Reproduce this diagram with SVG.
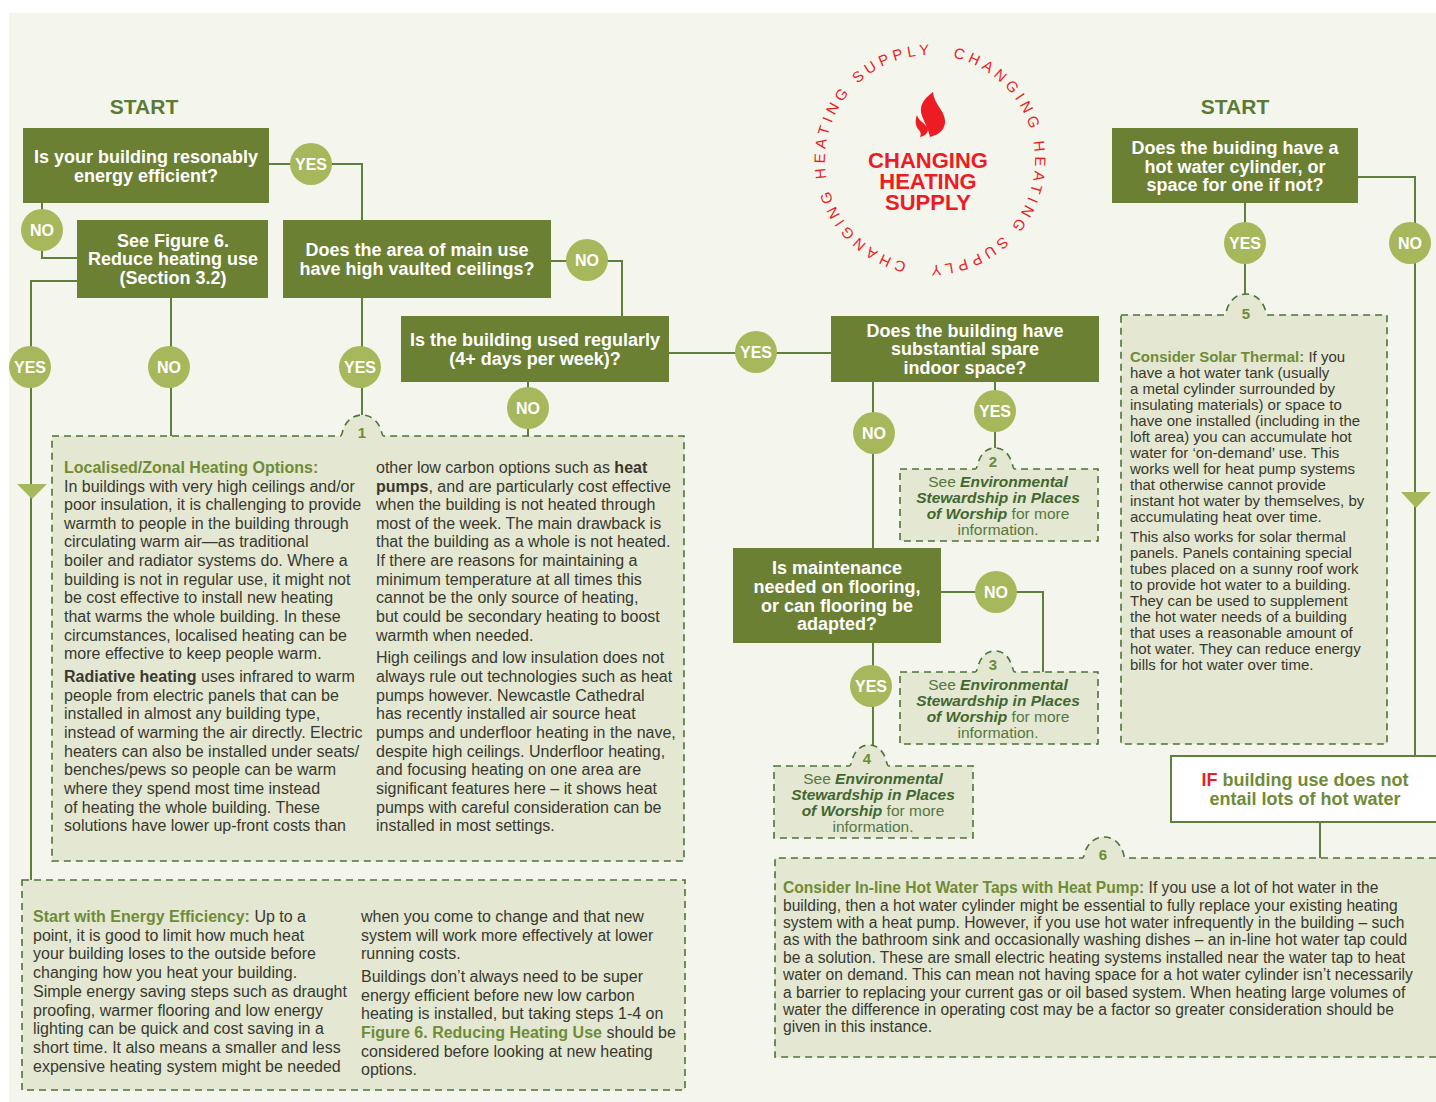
<svg xmlns="http://www.w3.org/2000/svg" width="1436" height="1102" viewBox="0 0 1436 1102">
<style>
text{font-family:"Liberation Sans",Arial,sans-serif}
.bg{fill:#f4f6ed}
.box{fill:#6b8033}
.bt{fill:#fff;font-weight:700;font-size:18px;text-anchor:middle}
.c{fill:#a7b85c}
.ct{fill:#fff;font-weight:700;font-size:16px;text-anchor:middle}
.ln{fill:none;stroke:#5f7f3c;stroke-width:2}
.p{fill:#e4e8d2;stroke:#4f7238;stroke-width:1.6;stroke-dasharray:7 5}
.b{fill:#38382f;font-size:16px}
.b5{fill:#38382f;font-size:15px}
.b6{fill:#38382f;font-size:15.6px}
.h{fill:#6f8b37;font-weight:700}
.d{font-weight:700;color:#000;fill:#38382f}
.n{fill:#6f8b37;font-weight:700;font-size:15px;text-anchor:middle}
.s{fill:#54773f;font-size:15.5px;text-anchor:middle}
.s tspan.e{font-weight:700;font-style:italic;fill:#41672f}
.st{fill:#5c7a34;font-weight:700;font-size:21px;text-anchor:middle}
.r{fill:#ed1c24}
</style>
<rect width="1436" height="1102" fill="#fff"/>
<rect class="bg" x="9" y="13" width="1427" height="1089"/>

<g id="connectors">
<path class="ln" d="M269 164H362V220M362 298V415"/>
<path class="ln" d="M42 203V258H77"/>
<path class="ln" d="M77 281H31V880"/>
<path class="ln" d="M171 298V456"/>
<path class="ln" d="M551 261H622V316"/>
<path class="ln" d="M528 382V436"/>
<path class="ln" d="M669 353H831"/>
<path class="ln" d="M873 382V548"/>
<path class="ln" d="M995 382V448"/>
<path class="ln" d="M941 592H1043V672"/>
<path class="ln" d="M873 643V745"/>
<path class="ln" d="M1245 203V294"/>
<path class="ln" d="M1358 177H1415V756"/>
<path class="ln" d="M1320 822V858"/>
<path class="c" d="M17 484H47L32 499Z"/>
<path class="c" d="M1401 492H1431L1416 508Z"/>
</g>

<g id="start-left"><text class="st" x="144" y="114">START</text></g>
<g id="start-right"><text class="st" x="1235" y="114">START</text></g>

<g id="q-efficient"><rect class="box" x="23" y="128" width="246" height="75"/><text class="bt" x="146" y="163">Is your building resonably</text><text class="bt" x="146" y="182">energy efficient?</text></g>
<g id="q-figure6"><rect class="box" x="77" y="220" width="191" height="78"/><text class="bt" x="173" y="247">See Figure 6.</text><text class="bt" x="173" y="265">Reduce heating use</text><text class="bt" x="173" y="284">(Section 3.2)</text></g>
<g id="q-ceilings"><rect class="box" x="283" y="220" width="268" height="78"/><text class="bt" x="417" y="256">Does the area of main use</text><text class="bt" x="417" y="275">have high vaulted ceilings?</text></g>
<g id="q-regular"><rect class="box" x="401" y="316" width="268" height="66"/><text class="bt" x="535" y="346">Is the building used regularly</text><text class="bt" x="535" y="365">(4+ days per week)?</text></g>
<g id="q-spare"><rect class="box" x="831" y="316" width="268" height="66"/><text class="bt" x="965" y="337">Does the building have</text><text class="bt" x="965" y="355">substantial spare</text><text class="bt" x="965" y="374">indoor space?</text></g>
<g id="q-flooring"><rect class="box" x="733" y="548" width="208" height="95"/><text class="bt" x="837" y="574">Is maintenance</text><text class="bt" x="837" y="593">needed on flooring,</text><text class="bt" x="837" y="612">or can flooring be</text><text class="bt" x="837" y="630">adapted?</text></g>
<g id="q-cylinder"><rect class="box" x="1112" y="128" width="246" height="75"/><text class="bt" x="1235" y="154">Does the buiding have a</text><text class="bt" x="1235" y="173">hot water cylinder, or</text><text class="bt" x="1235" y="191">space for one if not?</text></g>

<g id="c1"><circle class="c" cx="311" cy="164" r="21"/><text class="ct" x="311" y="170">YES</text></g>
<g id="c2"><circle class="c" cx="42" cy="230" r="21"/><text class="ct" x="42" y="236">NO</text></g>
<g id="c3"><circle class="c" cx="587" cy="260" r="21"/><text class="ct" x="587" y="266">NO</text></g>
<g id="c4"><circle class="c" cx="30" cy="367" r="21"/><text class="ct" x="30" y="373">YES</text></g>
<g id="c5"><circle class="c" cx="169" cy="367" r="21"/><text class="ct" x="169" y="373">NO</text></g>
<g id="c6"><circle class="c" cx="360" cy="367" r="21"/><text class="ct" x="360" y="373">YES</text></g>
<g id="c7"><circle class="c" cx="528" cy="408" r="21"/><text class="ct" x="528" y="414">NO</text></g>
<g id="c8"><circle class="c" cx="756" cy="352" r="21"/><text class="ct" x="756" y="358">YES</text></g>
<g id="c9"><circle class="c" cx="874" cy="433" r="21"/><text class="ct" x="874" y="439">NO</text></g>
<g id="c10"><circle class="c" cx="995" cy="411" r="21"/><text class="ct" x="995" y="417">YES</text></g>
<g id="c11"><circle class="c" cx="996" cy="592" r="21"/><text class="ct" x="996" y="598">NO</text></g>
<g id="c12"><circle class="c" cx="871" cy="686" r="21"/><text class="ct" x="871" y="692">YES</text></g>
<g id="c13"><circle class="c" cx="1245" cy="243" r="21"/><text class="ct" x="1245" y="249">YES</text></g>
<g id="c14"><circle class="c" cx="1410" cy="243" r="21"/><text class="ct" x="1410" y="249">NO</text></g>

<g id="panel-1">
<path class="p" d="M52 436H340C342 436 342 433 343 430C346 421 353 415 362 415C371 415 378 421 381 430C382 433 382 436 384 436H684V861H52Z"/>
<text class="n" x="362" y="438">1</text>
<text class="b">
<tspan class="h" x="64" y="473">Localised/Zonal Heating Options:</tspan>
<tspan x="64" y="491.5">In buildings with very high ceilings and/or</tspan>
<tspan x="64" y="510">poor insulation, it is challenging to provide</tspan>
<tspan x="64" y="529">warmth to people in the building through</tspan>
<tspan x="64" y="547">circulating warm air—as traditional</tspan>
<tspan x="64" y="566">boiler and radiator systems do. Where a</tspan>
<tspan x="64" y="585">building is not in regular use, it might not</tspan>
<tspan x="64" y="603">be cost effective to install new heating</tspan>
<tspan x="64" y="622">that warms the whole building. In these</tspan>
<tspan x="64" y="641">circumstances, localised heating can be</tspan>
<tspan x="64" y="659">more effective to keep people warm.</tspan>
<tspan x="64" y="682" class="d">Radiative heating</tspan><tspan> uses infrared to warm</tspan>
<tspan x="64" y="701">people from electric panels that can be</tspan>
<tspan x="64" y="719">installed in almost any building type,</tspan>
<tspan x="64" y="738">instead of warming the air directly. Electric</tspan>
<tspan x="64" y="757">heaters can also be installed under seats/</tspan>
<tspan x="64" y="775">benches/pews so people can be warm</tspan>
<tspan x="64" y="794">where they spend most time instead</tspan>
<tspan x="64" y="813">of heating the whole building. These</tspan>
<tspan x="64" y="831">solutions have lower up-front costs than</tspan>
<tspan x="376" y="473">other low carbon options such as </tspan><tspan class="d">heat</tspan>
<tspan x="376" y="491.5" class="d">pumps</tspan><tspan>, and are particularly cost effective</tspan>
<tspan x="376" y="510">when the building is not heated through</tspan>
<tspan x="376" y="529">most of the week. The main drawback is</tspan>
<tspan x="376" y="547">that the building as a whole is not heated.</tspan>
<tspan x="376" y="566">If there are reasons for maintaining a</tspan>
<tspan x="376" y="585">minimum temperature at all times this</tspan>
<tspan x="376" y="603">cannot be the only source of heating,</tspan>
<tspan x="376" y="622">but could be secondary heating to boost</tspan>
<tspan x="376" y="641">warmth when needed.</tspan>
<tspan x="376" y="663">High ceilings and low insulation does not</tspan>
<tspan x="376" y="682">always rule out technologies such as heat</tspan>
<tspan x="376" y="701">pumps however. Newcastle Cathedral</tspan>
<tspan x="376" y="719">has recently installed air source heat</tspan>
<tspan x="376" y="738">pumps and underfloor heating in the nave,</tspan>
<tspan x="376" y="757">despite high ceilings. Underfloor heating,</tspan>
<tspan x="376" y="775">and focusing heating on one area are</tspan>
<tspan x="376" y="794">significant features here – it shows heat</tspan>
<tspan x="376" y="813">pumps with careful consideration can be</tspan>
<tspan x="376" y="831">installed in most settings.</tspan>
</text>
</g>

<g id="panel-2">
<path class="p" d="M900 469H975C977 469 977 466 978 463C981 454 986 448 995 448C1004 448 1009 454 1012 463C1013 466 1013 469 1015 469H1098V541H900Z"/>
<text class="n" x="993" y="467">2</text>
<text class="s"><tspan x="998" y="487">See <tspan class="e">Environmental</tspan></tspan><tspan class="e" x="998" y="503">Stewardship in Places</tspan><tspan x="998" y="519"><tspan class="e">of Worship</tspan> for more</tspan><tspan x="998" y="535">information.</tspan></text>
</g>
<g id="panel-3">
<path class="p" d="M900 672H975C977 672 977 669 978 666C981 657 986 651 995 651C1004 651 1009 657 1012 666C1013 669 1013 672 1015 672H1098V744H900Z"/>
<text class="n" x="993" y="670">3</text>
<text class="s"><tspan x="998" y="690">See <tspan class="e">Environmental</tspan></tspan><tspan class="e" x="998" y="706">Stewardship in Places</tspan><tspan x="998" y="722"><tspan class="e">of Worship</tspan> for more</tspan><tspan x="998" y="738">information.</tspan></text>
</g>
<g id="panel-4">
<path class="p" d="M774 766H849C851 766 851 763 852 760C855 751 860 745 869 745C878 745 883 751 886 760C887 763 887 766 889 766H973V838H774Z"/>
<text class="n" x="867" y="764">4</text>
<text class="s"><tspan x="873" y="784">See <tspan class="e">Environmental</tspan></tspan><tspan class="e" x="873" y="800">Stewardship in Places</tspan><tspan x="873" y="816"><tspan class="e">of Worship</tspan> for more</tspan><tspan x="873" y="832">information.</tspan></text>
</g>

<g id="panel-5">
<path class="p" d="M1121 315H1224C1226 315 1226 312 1227 309C1230 300 1237 294 1246 294C1255 294 1262 300 1265 309C1266 312 1266 315 1268 315H1387V744H1121Z"/>
<text class="n" x="1246" y="319">5</text>
<text class="b5">
<tspan class="h" x="1130" y="362">Consider Solar Thermal:</tspan><tspan>  If you</tspan>
<tspan x="1130" y="378">have a hot water tank (usually</tspan>
<tspan x="1130" y="394">a metal cylinder surrounded by</tspan>
<tspan x="1130" y="410">insulating materials) or space to</tspan>
<tspan x="1130" y="426">have one installed (including in the</tspan>
<tspan x="1130" y="442">loft area) you can accumulate hot</tspan>
<tspan x="1130" y="458">water for ‘on-demand’ use. This</tspan>
<tspan x="1130" y="474">works well for heat pump systems</tspan>
<tspan x="1130" y="490">that otherwise cannot provide</tspan>
<tspan x="1130" y="506">instant hot water by themselves, by</tspan>
<tspan x="1130" y="522">accumulating heat over time.</tspan>
<tspan x="1130" y="542">This also works for solar thermal</tspan>
<tspan x="1130" y="558">panels. Panels containing special</tspan>
<tspan x="1130" y="574">tubes placed on a sunny roof work</tspan>
<tspan x="1130" y="590">to provide hot water to a building.</tspan>
<tspan x="1130" y="606">They can be used to supplement</tspan>
<tspan x="1130" y="622">the hot water needs of a building</tspan>
<tspan x="1130" y="638">that uses a reasonable amount of</tspan>
<tspan x="1130" y="654">hot water. They can reduce energy</tspan>
<tspan x="1130" y="670">bills for hot water over time.</tspan>
</text>
</g>

<g id="panel-6">
<path class="p" d="M1436 858H1126C1124 858 1124 855 1123 852C1120 843 1113 837 1104 837C1095 837 1088 843 1085 852C1084 855 1084 858 1082 858H775V1057H1436"/>
<text class="n" x="1103" y="860">6</text>
<text class="b6">
<tspan class="h" x="783" y="893">Consider In-line Hot Water Taps with Heat Pump: </tspan><tspan>If you use a lot of hot water in the</tspan>
<tspan x="783" y="911">building, then a hot water cylinder might be essential to fully replace your existing heating</tspan>
<tspan x="783" y="928">system with a heat pump. However, if you use hot water infrequently in the building – such</tspan>
<tspan x="783" y="945">as with the bathroom sink and occasionally washing dishes – an in-line hot water tap could</tspan>
<tspan x="783" y="963">be a solution. These are small electric heating systems installed near the water tap to heat</tspan>
<tspan x="783" y="980">water on demand. This can mean not having space for a hot water cylinder isn’t necessarily</tspan>
<tspan x="783" y="998">a barrier to replacing your current gas or oil based system. When heating large volumes of</tspan>
<tspan x="783" y="1015">water the difference in operating cost may be a factor so greater consideration should be</tspan>
<tspan x="783" y="1032">given in this instance.</tspan>
</text>
</g>

<g id="panel-7">
<path class="p" d="M22 880H685V1090H22Z"/>
<text class="b">
<tspan class="h" x="33" y="922">Start with Energy Efficiency:</tspan><tspan> Up to a</tspan>
<tspan x="33" y="941">point, it is good to limit how much heat</tspan>
<tspan x="33" y="959">your building loses to the outside before</tspan>
<tspan x="33" y="978">changing how you heat your building.</tspan>
<tspan x="33" y="997">Simple energy saving steps such as draught</tspan>
<tspan x="33" y="1016">proofing, warmer flooring and low energy</tspan>
<tspan x="33" y="1034">lighting can be quick and cost saving in a</tspan>
<tspan x="33" y="1053">short time. It also means a smaller and less</tspan>
<tspan x="33" y="1072">expensive heating system might be needed</tspan>
<tspan x="361" y="922">when you come to change and that new</tspan>
<tspan x="361" y="941">system will work more effectively at lower</tspan>
<tspan x="361" y="959">running costs.</tspan>
<tspan x="361" y="982">Buildings don’t always need to be super</tspan>
<tspan x="361" y="1001">energy efficient before new low carbon</tspan>
<tspan x="361" y="1019">heating is installed, but taking steps 1-4 on</tspan>
<tspan x="361" y="1038" class="h">Figure 6. Reducing Heating Use</tspan><tspan> should be</tspan>
<tspan x="361" y="1057">considered before looking at new heating</tspan>
<tspan x="361" y="1075">options.</tspan>
</text>
</g>

<g id="if-box">
<rect x="1171" y="756" width="270" height="66" fill="#fff" stroke="#5f7f3c" stroke-width="2"/>
<text x="1305" y="786" font-size="18" font-weight="700" text-anchor="middle" fill="#6f8b37"><tspan class="r">IF</tspan> building use does not</text>
<text x="1305" y="805" font-size="18" font-weight="700" text-anchor="middle" fill="#6f8b37">entail lots of hot water</text>
</g>

<g id="logo">
<defs><path id="ring" d="M930 55A105 105 0 1 1 929.99 55"/></defs>
<text class="r" font-size="15" letter-spacing="4.2"><textPath href="#ring" startOffset="23">CHANGING HEATING SUPPLY</textPath></text>
<text class="r" font-size="15" letter-spacing="4.2"><textPath href="#ring" startOffset="353">CHANGING HEATING SUPPLY</textPath></text>
<path class="r" d="M933 92C925 98 920 104 921 112C922 119 927 124 930 137C938 135 946 130 945 120C944 110 934 104 933 92Z"/>
<path class="r" d="M917 115C915 120 915 126 919 130C921 132 921 135 920 137C925 136 928 133 928 129C927 124 919 122 917 115Z"/>
<g font-size="22" font-weight="700" text-anchor="middle" class="r"><text x="928" y="168">CHANGING</text><text x="928" y="189">HEATING</text><text x="928" y="210">SUPPLY</text></g>
</g>
</svg>
